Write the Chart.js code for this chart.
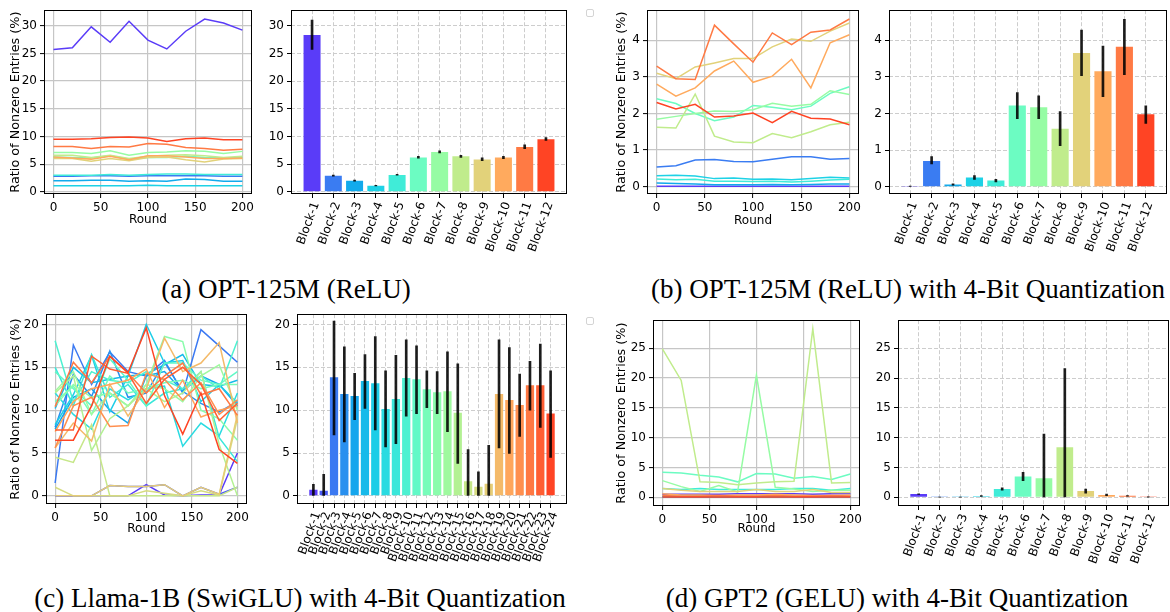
<!DOCTYPE html>
<html>
<head>
<meta charset="utf-8">
<script src="https://cdn.jsdelivr.net/npm/chart.js@4.4.0/dist/chart.umd.min.js"></script>
<style>
body { margin: 0; background: #fff; width: 1170px; height: 612px; position: relative; overflow: hidden; }
canvas { position: absolute; }
.cap { position: absolute; width: 640px; font-family: "Liberation Serif", serif; font-size: 27px; line-height: 30px; text-align: center; white-space: nowrap; color: #000; }
.lg { position: absolute; width: 6px; height: 6px; border: 1px solid #d4d4d4; border-radius: 2px; }
</style>
</head>
<body>
<canvas id="lineA"></canvas>
<canvas id="barA"></canvas>
<canvas id="lineB"></canvas>
<canvas id="barB"></canvas>
<canvas id="lineC"></canvas>
<canvas id="barC"></canvas>
<canvas id="lineD"></canvas>
<canvas id="barD"></canvas>
<div class="lg" style="left:586px;top:9px"></div>
<div class="lg" style="left:586px;top:317px"></div>
<div class="cap" style="left:-34px;top:274px">(a) OPT-125M (ReLU)</div>
<div class="cap" style="left:588px;top:274px">(b) OPT-125M (ReLU) with 4-Bit Quantization</div>
<div class="cap" style="left:-20px;top:583px">(c) Llama-1B (SwiGLU) with 4-Bit Quantization</div>
<div class="cap" style="left:577px;top:583px">(d) GPT2 (GELU) with 4-Bit Quantization</div>
<script>
// rounds on the x axis of the line plots
const rounds = [0, 20, 40, 60, 80, 100, 120, 140, 160, 180, 200];
const roundTicks = [0, 50, 100, 150, 200];
const blocks12 = ['Block-1', 'Block-2', 'Block-3', 'Block-4', 'Block-5', 'Block-6', 'Block-7', 'Block-8', 'Block-9', 'Block-10', 'Block-11', 'Block-12'];
const blocks24 = ['Block-1', 'Block-2', 'Block-3', 'Block-4', 'Block-5', 'Block-6', 'Block-7', 'Block-8', 'Block-9', 'Block-10', 'Block-11', 'Block-12',
  'Block-13', 'Block-14', 'Block-15', 'Block-16', 'Block-17', 'Block-18', 'Block-19', 'Block-20', 'Block-21', 'Block-22', 'Block-23', 'Block-24'];

const ticksA = [0, 5, 10, 15, 20, 25, 30];
const ticksB = [0, 1, 2, 3, 4];
const ticksC = [0, 5, 10, 15, 20];
const ticksD = [0, 5, 10, 15, 20, 25];

// (a) OPT-125M (ReLU)
const optLines = [
  [25.7, 26.0, 29.8, 27.0, 30.8, 27.4, 25.8, 29.0, 31.2, 30.5, 29.2],
  [2.8, 2.8, 2.9, 2.9, 2.8, 2.9, 2.9, 2.9, 2.9, 2.8, 2.8],
  [2.0, 2.0, 2.1, 2.1, 1.9, 2.0, 1.9, 2.3, 2.2, 1.9, 1.9],
  [1.1, 1.1, 1.1, 1.1, 1.1, 1.2, 1.1, 1.1, 1.1, 1.1, 1.1],
  [3.0, 3.0, 3.0, 3.1, 3.0, 3.1, 3.2, 3.2, 3.1, 3.1, 3.1],
  [6.3, 6.2, 6.1, 6.5, 5.9, 6.2, 6.2, 6.4, 6.2, 6.1, 6.2],
  [7.1, 7.1, 6.9, 7.4, 6.6, 7.1, 7.2, 7.4, 7.3, 6.9, 7.3],
  [6.6, 6.6, 6.2, 6.6, 6.0, 6.4, 6.6, 6.7, 6.5, 6.2, 6.4],
  [6.0, 6.0, 5.5, 6.0, 5.6, 6.2, 6.3, 5.8, 5.4, 5.9, 6.0],
  [6.3, 6.1, 5.9, 6.4, 5.8, 6.5, 6.5, 6.3, 6.0, 6.0, 6.1],
  [8.2, 8.2, 7.8, 8.2, 8.1, 8.7, 8.6, 8.0, 7.8, 7.5, 7.7],
  [9.5, 9.5, 9.6, 9.8, 9.9, 9.7, 9.1, 9.6, 9.7, 9.4, 9.4]
];
const optMean = [28.3, 2.9, 2.0, 1.1, 3.05, 6.2, 7.2, 6.4, 5.85, 6.2, 8.1, 9.5];
const optLo = [25.7, 2.8, 1.9, 1.05, 3.0, 6.05, 7.0, 6.2, 5.6, 6.0, 7.8, 9.3];
const optHi = [31.0, 3.0, 2.1, 1.15, 3.15, 6.4, 7.4, 6.6, 6.15, 6.4, 8.5, 9.8];

// (b) OPT-125M (ReLU), 4-bit
const quantLines = [
  [0.01, 0.01, 0.01, 0.01, 0.01, 0.01, 0.01, 0.01, 0.01, 0.01, 0.01],
  [0.54, 0.57, 0.73, 0.74, 0.69, 0.68, 0.75, 0.82, 0.82, 0.75, 0.77],
  [0.10, 0.09, 0.07, 0.05, 0.05, 0.05, 0.06, 0.05, 0.06, 0.07, 0.07],
  [0.30, 0.31, 0.29, 0.22, 0.24, 0.20, 0.21, 0.19, 0.22, 0.26, 0.24],
  [0.21, 0.19, 0.20, 0.15, 0.15, 0.14, 0.15, 0.13, 0.15, 0.18, 0.20],
  [2.40, 2.27, 2.00, 1.80, 1.90, 2.22, 2.17, 2.10, 2.20, 2.55, 2.73],
  [1.84, 1.92, 2.00, 2.07, 2.05, 2.10, 2.28, 2.20, 2.25, 2.62, 2.52],
  [1.62, 1.60, 2.53, 1.38, 1.22, 1.20, 1.45, 1.34, 1.50, 1.69, 1.76],
  [3.10, 2.95, 3.27, 3.38, 3.50, 3.50, 3.82, 4.03, 3.97, 4.25, 4.47],
  [2.80, 2.47, 2.70, 3.16, 3.43, 2.85, 3.02, 3.48, 2.70, 3.93, 4.15],
  [3.29, 2.95, 2.93, 4.41, 3.90, 3.40, 4.20, 3.88, 4.22, 4.28, 4.58],
  [2.30, 2.12, 2.25, 1.90, 1.93, 2.01, 1.75, 2.06, 1.87, 1.85, 1.69]
];
const quantMean = [0.005, 0.7, 0.06, 0.25, 0.17, 2.22, 2.17, 1.58, 3.65, 3.15, 3.82, 1.98];
const quantLo = [0, 0.62, 0.04, 0.2, 0.13, 1.86, 1.86, 1.12, 3.03, 2.46, 3.06, 1.73];
const quantHi = [0.01, 0.82, 0.08, 0.3, 0.2, 2.57, 2.48, 2.05, 4.28, 3.84, 4.57, 2.21];

// (c) Llama-1B (SwiGLU), 4-bit
const llamaLines = [
  [0, 0, 0, 0, 0, 1.3, 0.1, 0, 0.1, 0.1, 5.0],
  [0, 0, 0, 1.2, 1.1, 1.1, 1.3, 0, 1.0, 0.2, 1.0],
  [1.5, 17.6, 13.0, 16.8, 14.5, 14.0, 15.8, 12.0, 19.4, 17.5, 15.6],
  [8.0, 14.2, 11.6, 16.9, 11.5, 12.0, 15.6, 12.2, 10.8, 9.8, 11.0],
  [7.8, 11.5, 12.5, 10.0, 8.5, 14.0, 14.5, 12.2, 14.0, 13.0, 10.5],
  [10.2, 15.0, 13.2, 13.6, 14.0, 14.2, 15.3, 16.5, 13.0, 12.8, 13.5],
  [8.3, 11.8, 16.4, 9.8, 14.0, 20.0, 15.5, 15.8, 11.0, 13.0, 10.8],
  [12.0, 9.5, 7.8, 12.5, 11.2, 12.5, 12.8, 5.8, 8.5, 7.0, 12.0],
  [15.0, 10.5, 16.5, 11.5, 13.0, 10.5, 12.0, 12.5, 14.5, 6.8, 4.0],
  [18.1, 11.0, 14.5, 13.5, 13.2, 14.5, 13.5, 12.5, 14.0, 12.5, 18.1],
  [14.5, 12.5, 10.5, 16.0, 13.5, 10.5, 15.5, 15.5, 13.5, 13.0, 14.5],
  [11.0, 12.8, 9.5, 14.0, 12.0, 12.5, 13.2, 13.5, 12.5, 13.0, 13.0],
  [10.5, 13.0, 11.5, 12.0, 10.5, 13.0, 18.6, 18.0, 10.0, 9.0, 6.5],
  [12.2, 14.5, 9.5, 12.0, 10.5, 13.0, 12.5, 11.0, 14.0, 15.3, 10.0],
  [12.0, 14.0, 5.3, 9.0, 10.5, 12.5, 11.0, 12.0, 14.5, 6.0, 0.0],
  [4.5, 3.9, 8.3, 0, 0, 0, 0, 0, 0, 0, 1.0],
  [1.0, 0, 0, 0, 0, 0.6, 0.3, 0, 0.6, 0.1, 9.0],
  [0, 0, 0, 1.2, 1.1, 1.1, 1.3, 0, 1.0, 0.2, 9.5],
  [5.6, 8.5, 6.4, 13.0, 9.3, 12.5, 18.4, 14.5, 15.5, 17.9, 8.5],
  [7.5, 11.0, 12.5, 13.0, 13.5, 14.8, 10.3, 13.5, 9.2, 10.0, 10.5],
  [5.6, 10.5, 11.5, 8.1, 8.2, 14.3, 13.6, 11.2, 13.2, 9.5, 11.2],
  [10.4, 15.6, 13.2, 16.3, 14.3, 12.0, 14.0, 15.5, 11.8, 12.5, 9.4],
  [7.7, 7.7, 16.3, 14.8, 14.3, 10.8, 13.6, 15.0, 13.0, 8.8, 10.8],
  [6.5, 6.5, 10.5, 16.3, 14.4, 19.6, 11.7, 7.2, 12.0, 5.4, 3.8]
];
const llamaMean = [0.7, 0.6, 13.85, 11.9, 11.65, 13.4, 13.15, 10.15, 11.3, 13.75, 13.6, 12.45, 12.1, 12.2, 9.7, 1.7, 1.05, 1.4, 11.9, 11.2, 10.6, 12.9, 12.9, 9.6];
const llamaLo = [0, 0, 7.1, 6.3, 8.9, 10.2, 7.7, 5.7, 6.1, 9.3, 9.6, 10.3, 9.6, 7.5, 3.8, 0, 0, 0, 5.6, 4.95, 6.95, 10.0, 8.0, 4.5];
const llamaHi = [1.35, 2.5, 20.4, 17.4, 14.3, 16.5, 18.6, 14.6, 16.4, 18.2, 17.5, 14.6, 14.5, 16.8, 15.4, 5.4, 2.8, 5.9, 18.2, 17.3, 14.2, 15.7, 17.7, 14.6];

// (d) GPT2 (GELU), 4-bit
const gptLines = [
  [0.5, 0.5, 0.5, 0.5, 0.6, 0.6, 0.6, 0.6, 0.5, 0.6, 0.6],
  [0.05, 0.05, 0.05, 0.05, 0.05, 0.05, 0.05, 0.05, 0.05, 0.05, 0.05],
  [0.05, 0.05, 0.05, 0.05, 0.05, 0.05, 0.05, 0.05, 0.05, 0.05, 0.05],
  [0.2, 0.2, 0.25, 0.2, 0.2, 0.2, 0.25, 0.2, 0.2, 0.2, 0.2],
  [1.5, 1.3, 1.5, 1.3, 1.3, 1.3, 1.3, 1.5, 1.5, 1.2, 1.5],
  [4.2, 4.1, 3.7, 3.4, 2.6, 4.0, 3.9, 3.2, 3.5, 3.0, 3.9],
  [2.8, 1.8, 1.0, 2.0, 0.9, 20.5, 1.7, 1.4, 1.0, 1.2, 1.2],
  [24.9, 19.6, 2.6, 2.5, 2.1, 2.4, 2.6, 2.7, 28.3, 2.4, 2.5],
  [1.5, 1.2, 1.0, 1.0, 1.0, 1.3, 1.0, 1.0, 1.3, 0.8, 0.8],
  [0.6, 0.4, 0.4, 0.3, 0.4, 0.4, 0.5, 0.4, 0.3, 0.3, 0.4],
  [0.3, 0.2, 0.2, 0.3, 0.2, 0.2, 0.3, 0.2, 0.2, 0.3, 0.2],
  [0.05, 0.05, 0.05, 0.05, 0.05, 0.05, 0.05, 0.05, 0.05, 0.05, 0.05]
];
const gptMean = [0.55, 0.05, 0.05, 0.2, 1.4, 3.5, 3.2, 8.4, 1.05, 0.4, 0.25, 0.05];
const gptLo = [0.5, 0.04, 0.04, 0.15, 1.2, 2.8, 0, 0, 0.7, 0.3, 0.2, 0.03];
const gptHi = [0.6, 0.06, 0.06, 0.3, 1.6, 4.2, 10.6, 21.6, 1.4, 0.55, 0.3, 0.07];

// rainbow-ish palette, 12 steps
const pal12 = ['#5a3cf8', '#3a7cf2', '#12aaec', '#1ed2e6', '#40ecd8', '#6cfcc2',
  '#96fca4', '#c0ec8c', '#e2d27a', '#ffaa5e', '#ff7a44', '#ff4424'];

function spread(pal, n) {
  const rgb = pal.map(h => [1, 3, 5].map(k => parseInt(h.substr(k, 2), 16)));
  const out = [];
  for (let i = 0; i < n; i++) {
    const t = i * (pal.length - 1) / (n - 1);
    const k = Math.min(Math.floor(t), pal.length - 2), f = t - k;
    const c = rgb[k].map((v, j) => Math.round(v + (rgb[k + 1][j] - v) * f));
    out.push('rgb(' + c.join(',') + ')');
  }
  return out;
}
const pal24 = spread(pal12, 24);

const FS = 12;
const HALF = FS * 0.6; // half a line of text
Chart.defaults.font.family = "'DejaVu Sans', sans-serif";
Chart.defaults.font.size = FS;
Chart.defaults.color = '#000';
Chart.defaults.animation = false;

const boxPlugin = {
  id: 'box',
  afterDraw(chart) {
    const { ctx, chartArea: c } = chart;
    ctx.save();
    ctx.strokeStyle = '#000';
    ctx.lineWidth = 1;
    ctx.strokeRect(Math.round(c.left) + 0.5, Math.round(c.top) + 0.5, Math.round(c.right - c.left) - 1, Math.round(c.bottom - c.top) - 1);
    ctx.restore();
  }
};

function place(cv, a, yW, xH, padT, padR) {
  cv.width = yW + (a.r - a.l) + padR;
  cv.height = padT + (a.b - a.t) + xH;
  cv.style.left = (a.l - yW) + 'px';
  cv.style.top = (a.t - padT) + 'px';
}

const lineGrid = { color: '#c6c6c6', lineWidth: 1.2, tickColor: '#000', tickWidth: 1, tickLength: 4 };
const barGrid = { color: '#cdcdcd', lineWidth: 1, tickColor: '#000', tickWidth: 1, tickLength: 4, tickBorderDash: [], offset: false };

function makeLine(id, a, s) {
  const yW = s.yW, xH = 38, padT = s.padT, padR = 3;
  const cv = document.getElementById(id);
  place(cv, a, yW, xH, padT, padR);
  const n = s.lines.length;
  new Chart(cv, {
    type: 'line',
    data: {
      datasets: s.lines.map((ys, i) => ({
        data: ys.map((y, j) => ({ x: rounds[j], y: y })),
        borderColor: s.colors[i],
        borderWidth: 1.5,
        pointRadius: 0,
        tension: 0,
        fill: false,
        order: n - 1 - i
      }))
    },
    options: {
      responsive: false,
      events: [],
      layout: { padding: { top: padT, right: padR, left: 0, bottom: 0 } },
      plugins: { legend: { display: false }, tooltip: { enabled: false } },
      scales: {
        x: {
          type: 'linear', min: -10, max: 210,
          afterBuildTicks: sc => { sc.ticks = roundTicks.map(v => ({ value: v })); },
          afterFit: sc => { sc.height = xH; },
          grid: lineGrid,
          border: { display: false },
          ticks: { padding: 3 },
          title: { display: true, text: 'Round', padding: { top: 0, bottom: xH - HALF - s.roundD } }
        },
        y: {
          type: 'linear', min: s.yMin, max: s.yMax,
          afterBuildTicks: sc => { sc.ticks = s.yTicks.map(v => ({ value: v })); },
          afterFit: sc => { sc.width = yW; },
          grid: lineGrid,
          border: { display: false },
          ticks: { padding: 3 },
          title: { display: true, text: 'Ratio of Nonzero Entries (%)', font: { size: 12.8 }, padding: { top: yW - s.titleD - 12.8 * 0.6, bottom: 0 } }
        }
      }
    },
    plugins: [boxPlugin]
  });
}

function makeBar(id, a, s) {
  const yW = 30, xH = 74, padT = s.padT, padR = s.padR;
  const cv = document.getElementById(id);
  place(cv, a, yW, xH, padT, padR);
  const n = s.mean.length;
  const m = 0.05 * (n - 1 + 0.8);
  new Chart(cv, {
    type: 'bar',
    data: {
      datasets: [
        {
          data: s.lo.map((lo, i) => ({ x: i, y: [lo, s.hi[i]] })),
          backgroundColor: 'rgba(0,0,0,0.88)',
          barThickness: 2,
          grouped: false,
          order: 0
        },
        {
          data: s.mean.map((v, i) => ({ x: i, y: v })),
          backgroundColor: s.colors,
          barPercentage: 0.8,
          categoryPercentage: 1,
          grouped: false,
          order: 1
        }
      ]
    },
    options: {
      responsive: false,
      events: [],
      layout: { padding: { top: padT, right: padR, left: 0, bottom: 0 } },
      plugins: { legend: { display: false }, tooltip: { enabled: false } },
      scales: {
        x: {
          type: 'linear', min: -0.4 - m, max: n - 1 + 0.4 + m, offset: false,
          afterBuildTicks: sc => { sc.ticks = s.labels.map((_, i) => ({ value: i })); },
          afterFit: sc => { sc.height = xH; },
          grid: barGrid,
          border: { display: false, dash: [4, 2] },
          ticks: { padding: 2, labelOffset: 4, autoSkip: false, minRotation: 70, maxRotation: 70, callback: v => s.labels[v] }
        },
        y: {
          type: 'linear', min: s.yMin, max: s.yMax,
          afterBuildTicks: sc => { sc.ticks = s.yTicks.map(v => ({ value: v })); },
          afterFit: sc => { sc.width = yW; },
          grid: barGrid,
          border: { display: false, dash: [4, 2] },
          ticks: { padding: 3 }
        }
      }
    },
    plugins: [boxPlugin]
  });
}

makeLine('lineA', { l: 44, r: 254, t: 5, b: 194 }, { lines: optLines, colors: pal12, yMin: -0.4, yMax: 32.8, yTicks: ticksA, yW: 44, padT: 5, titleD: 28, roundD: 26 });
makeBar('barA', { l: 291, r: 567, t: 5, b: 194 }, { mean: optMean, lo: optLo, hi: optHi, labels: blocks12, colors: pal12, yMin: -0.4, yMax: 32.8, yTicks: ticksA, padT: 5, padR: 4 });

makeLine('lineB', { l: 647, r: 861, t: 5, b: 194 }, { lines: quantLines, colors: pal12, yMin: -0.2, yMax: 4.82, yTicks: ticksB, yW: 44, padT: 5, titleD: 25, roundD: 27 });
makeBar('barB', { l: 889, r: 1167, t: 5, b: 194 }, { mean: quantMean, lo: quantLo, hi: quantHi, labels: blocks12, colors: pal12, yMin: -0.2, yMax: 4.82, yTicks: ticksB, padT: 5, padR: 3 });

makeLine('lineC', { l: 46, r: 249, t: 312, b: 504 }, { lines: llamaLines, colors: pal24, yMin: -0.95, yMax: 21.2, yTicks: ticksC, yW: 46, padT: 8, titleD: 30, roundD: 25 });
makeBar('barC', { l: 297, r: 567, t: 312, b: 504 }, { mean: llamaMean, lo: llamaLo, hi: llamaHi, labels: blocks24, colors: pal24, yMin: -0.95, yMax: 21.2, yTicks: ticksC, padT: 8, padR: 4 });

makeLine('lineD', { l: 653, r: 862, t: 318, b: 506 }, { lines: gptLines, colors: pal12, yMin: -1.45, yMax: 29.7, yTicks: ticksD, yW: 44, padT: 8, titleD: 31, roundD: 23 });
makeBar('barD', { l: 898, r: 1169, t: 318, b: 506 }, { mean: gptMean, lo: gptLo, hi: gptHi, labels: blocks12, colors: pal12, yMin: -1.45, yMax: 29.7, yTicks: ticksD, padT: 8, padR: 1 });
</script>
</body>
</html>
